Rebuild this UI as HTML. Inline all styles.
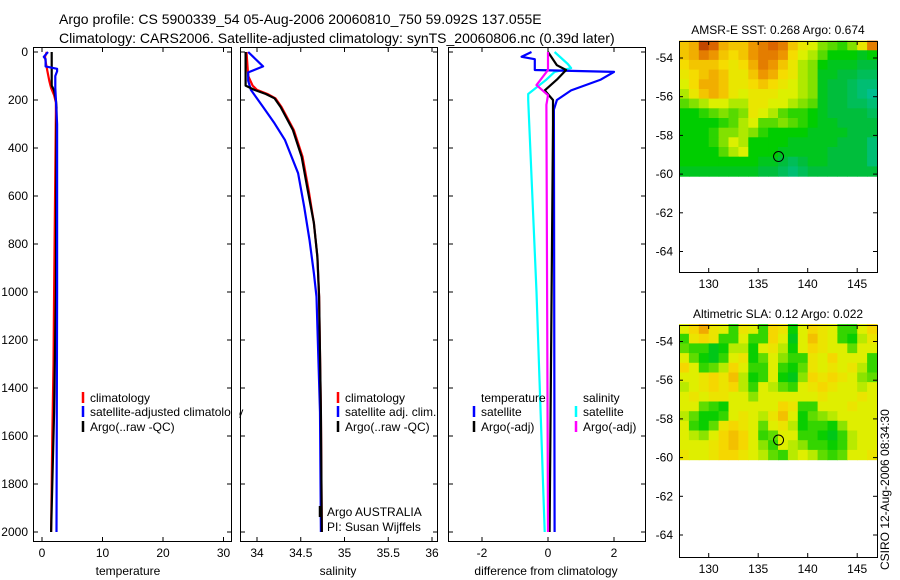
<!DOCTYPE html>
<html><head><meta charset="utf-8"><style>
body{margin:0;background:#fff}
svg{display:block;font-family:"Liberation Sans",sans-serif}
text{fill:#000}
</style></head><body>
<svg id="fig" width="900" height="580" viewBox="0 0 900 580">
<text x="59" y="24" font-size="14">Argo profile: CS 5900339_54 05-Aug-2006 20060810_750 59.092S 137.055E</text>
<text x="59" y="43" font-size="14">Climatology: CARS2006. Satellite-adjusted climatology: synTS_20060806.nc (0.39d later)</text>
<text transform="translate(889,570) rotate(-90)" font-size="12">CSIRO 12-Aug-2006 08:34:30</text>
<defs>
<clipPath id="c1"><rect x="33" y="47" width="198" height="494"/></clipPath>
<clipPath id="c2"><rect x="240" y="47" width="197" height="494"/></clipPath>
<clipPath id="c3"><rect x="448" y="47" width="197" height="494"/></clipPath>
</defs>
<g id="g"></g>
</svg>
<script>
// ---- profile data ----
const climTDepth=[0,20,40,80,120,150,180,210,250,500,1000,1300,1600,2000];
const climTVal=[0.8,0.5,0.6,0.9,1.2,1.5,2.0,2.3,2.3,2.2,2.0,1.9,1.7,1.5];
const argoTDepth=[0,140,160,200,230,300,1000,1500,2000];
const argoTVal=[1.6,1.6,2.0,2.3,2.4,2.4,2.3,2.0,1.5];
const satTDepth=[0,20,30,60,70,80,100,150,200,300,1000,2000];
const satTVal=[1.0,0.3,0.6,0.6,2.5,2.5,2.2,2.2,2.3,2.5,2.5,2.4];
const climSDepth=[0,100,140,158,175,193,229,325,436,575,713,854,1020,1500,2000];
const climSVal=[33.88,33.9,33.95,34.0,34.12,34.21,34.28,34.42,34.52,34.59,34.65,34.69,34.71,34.73,34.74];
const argoSDepth=[0,140,158,175,193,229,325,436,575,713,854,1020,1500,2000];
const argoSVal=[33.87,33.87,33.97,34.1,34.2,34.27,34.41,34.51,34.58,34.65,34.69,34.71,34.73,34.74];
const satSDepth=[0,60,85,120,158,229,297,367,505,645,783,922,1020,1500,2000];
const satSVal=[33.9,34.07,33.9,33.9,33.93,34.07,34.2,34.32,34.47,34.54,34.6,34.65,34.68,34.72,34.73];
const dSatTDepth=[0,20,30,75,83,115,160,200,240,2000];
const dSatTVal=[-0.5,-0.8,-0.4,-0.4,2.0,1.6,0.7,0.27,0.18,0.2];
const dArgoTDepth=[0,55,75,115,160,200,300,2000];
const dArgoTVal=[0,0.27,0.55,0.27,-0.1,0.15,0.15,0.05];
const dSatSDepth=[0,50,67,83,115,175,200,1000,2000];
const dSatSVal=[0.2,0.6,0.7,0.2,-0.05,-0.6,-0.6,-0.35,-0.1];
const dArgoSDepth=[0,75,138,180,220,2000];
const dArgoSVal=[0,0,-0.35,0,-0.05,0];
const depthTicks=[0,200,400,600,800,1000,1200,1400,1600,1800,2000];
const tempTicks=[0,10,20,30];
const salTicks=[34,34.5,35,35.5,36];
const salTickLabels=["34","34.5","35","35.5","36"];
const diffTicks=[-2,0,2];
const lonTicks=[130,135,140,145];
const latTicks=[-54,-56,-58,-60,-62,-64];
// ---- map data (rows: lat -53.1 .. -60.1 step 0.5, cols: lon 127..147 step 1) ----
const sstGrid=[
[.7,.75,.95,.9,.75,.7,.7,.8,.85,.9,.85,.7,.6,.55,.45,.4,.35,.45,.6,.85],
[.7,.75,.85,.8,.7,.65,.7,.8,.85,.85,.8,.65,.55,.5,.4,.3,.3,.3,.25,.3],
[.65,.7,.7,.7,.65,.6,.65,.75,.85,.8,.7,.6,.5,.45,.3,.25,.25,.25,.2,.2],
[.6,.65,.7,.75,.7,.6,.6,.7,.8,.75,.65,.6,.5,.45,.25,.25,.2,.2,.15,.15],
[.55,.65,.75,.75,.7,.6,.6,.65,.7,.65,.6,.55,.5,.45,.25,.2,.2,.15,.1,.1],
[.5,.6,.7,.75,.7,.6,.55,.6,.6,.6,.55,.55,.5,.45,.25,.2,.2,.15,.1,.05],
[.4,.45,.5,.55,.55,.5,.5,.6,.6,.55,.55,.5,.45,.4,.25,.2,.2,.15,.15,.1],
[.3,.3,.35,.4,.45,.4,.45,.6,.55,.5,.4,.35,.35,.3,.25,.2,.2,.2,.2,.15],
[.3,.3,.3,.3,.35,.4,.5,.55,.4,.4,.45,.4,.35,.3,.25,.25,.2,.2,.2,.2],
[.3,.3,.3,.35,.45,.45,.5,.45,.35,.3,.3,.3,.3,.25,.25,.25,.25,.2,.2,.2],
[.3,.3,.3,.35,.45,.55,.5,.3,.3,.3,.3,.25,.25,.25,.25,.25,.2,.2,.2,.1],
[.3,.3,.3,.3,.4,.5,.55,.3,.3,.3,.25,.25,.25,.25,.25,.2,.2,.2,.2,.1],
[.3,.3,.3,.3,.3,.3,.3,.3,.25,.25,.2,.15,.2,.25,.25,.2,.2,.2,.2,.1],
[.25,.25,.25,.25,.25,.25,.25,.25,.2,.2,.15,.1,.15,.2,.2,.2,.2,.2,.2,.2]];
const slaGrid=[
[.5,.6,.7,.55,.5,.3,.55,.5,.3,.6,.55,.25,.5,.6,.55,.5,.3,.3,.5,.6],
[.3,.55,.6,.55,.3,.3,.5,.3,.3,.6,.5,.2,.5,.65,.55,.5,.3,.25,.45,.55],
[.35,.3,.3,.2,.25,.45,.45,.25,.5,.55,.45,.25,.5,.6,.55,.5,.5,.35,.5,.5],
[.5,.35,.25,.2,.3,.5,.55,.25,.35,.5,.4,.3,.3,.55,.5,.6,.5,.5,.5,.3],
[.6,.5,.3,.35,.45,.6,.5,.3,.3,.5,.3,.25,.35,.55,.5,.55,.5,.55,.45,.3],
[.5,.5,.55,.6,.55,.65,.45,.25,.3,.5,.25,.2,.4,.6,.55,.6,.55,.5,.4,.35],
[.45,.5,.55,.6,.55,.6,.45,.3,.5,.45,.35,.3,.5,.55,.6,.55,.5,.5,.45,.5],
[.5,.55,.5,.55,.55,.5,.5,.4,.5,.5,.5,.5,.5,.5,.55,.5,.5,.5,.55,.5],
[.5,.5,.35,.3,.25,.5,.5,.5,.5,.5,.6,.55,.3,.3,.5,.5,.5,.55,.5,.5],
[.45,.35,.25,.25,.3,.5,.55,.5,.45,.55,.65,.5,.25,.35,.4,.45,.5,.5,.5,.5],
[.5,.3,.25,.35,.55,.6,.55,.5,.35,.5,.55,.45,.25,.3,.3,.25,.4,.5,.5,.5],
[.5,.45,.4,.5,.6,.65,.6,.5,.3,.35,.5,.5,.3,.3,.25,.2,.3,.45,.5,.5],
[.5,.5,.5,.55,.6,.65,.6,.5,.4,.3,.5,.45,.4,.3,.3,.25,.3,.45,.5,.5],
[.55,.5,.5,.55,.6,.6,.55,.5,.45,.35,.3,.45,.5,.45,.35,.3,.35,.5,.5,.55]];
const floatLon=137.055, floatLat=-59.092;

const NS='http://www.w3.org/2000/svg';
const G=document.getElementById('g');
function mk(tag,attrs,parent){const e=document.createElementNS(NS,tag);for(const k in attrs)e.setAttribute(k,attrs[k]);(parent||G).appendChild(e);return e;}
const yD=d=>52+d*0.24;
const xT=v=>42+v*6.05;
const xS=v=>257+(v-34)*87.5;
const xDf=v=>548+v*33;
const TOP=47,BOT=541;

function panel(x0,x1,name,clip){
  const b=mk('rect',{x:x0+.5,y:TOP+.5,width:x1-x0,height:BOT-TOP,fill:'none',stroke:'#000','stroke-width':1});
  
  
  depthTicks.forEach(d=>{
    const t=mk('line',{x1:x0,x2:x0+5,y1:yD(d),y2:yD(d),stroke:'#000'});
    
    
    mk('line',{x1:x1-4,x2:x1,y1:yD(d),y2:yD(d),stroke:'#000'});
  });
  const g=mk('g',{'clip-path':'url(#'+clip+')'});
  
  
  return g;
}
function xticks(xs,labels,fx,name,title,cx){
  xs.forEach((v,i)=>{
    mk('line',{x1:fx(v),x2:fx(v),y1:TOP,y2:TOP+5,stroke:'#000'});
    mk('line',{x1:fx(v),x2:fx(v),y1:BOT-4,y2:BOT,stroke:'#000'});
    const t=mk('text',{x:fx(v),y:BOT+16,'font-size':12,'text-anchor':'middle'});
    t.textContent=labels[i];
    
    
  });
  const t=mk('text',{x:cx,y:BOT+34,'font-size':12,'text-anchor':'middle'});
  t.textContent=title;
  
  
}
function line(g,depths,vals,fx,color,name){
  const pts=depths.map((d,i)=>fx(vals[i]).toFixed(1)+','+yD(d).toFixed(1)).join(' ');
  const p=mk('polyline',{points:pts,fill:'none',stroke:color,'stroke-width':2.2,'stroke-linejoin':'round'},g);
  
  
}
function legend(x,y,color,label,name){
  const l=mk('line',{x1:x,x2:x,y1:y-10,y2:y+1,stroke:color,'stroke-width':2.5});
  
  
  const t=mk('text',{x:x+7,y:y,'font-size':12});
  t.textContent=label;
  
  
}

depthTicks.forEach(d=>{
  const t=mk('text',{x:28,y:yD(d)+4,'font-size':12,'text-anchor':'end'});
  t.textContent=d;
  
  
});

const g1=panel(33,231,'temperature-panel','c1');
line(g1,climTDepth,climTVal,xT,'#f00','temperature-climatology-line');
line(g1,argoTDepth,argoTVal,xT,'#000','temperature-argo-line');
line(g1,satTDepth,satTVal,xT,'#00f','temperature-satellite-line');
xticks(tempTicks,tempTicks.map(String),xT,'temperature',"temperature",128);
legend(83,402,'#f00','climatology','temp-legend-climatology');
legend(83,416,'#00f','satellite-adjusted climatology','temp-legend-satellite');
legend(83,431,'#000','Argo(..raw -QC)','temp-legend-argo');

const g2=panel(240,437,'salinity-panel','c2');
line(g2,climSDepth,climSVal,xS,'#f00','salinity-climatology-line');
line(g2,satSDepth,satSVal,xS,'#00f','salinity-satellite-line');
line(g2,argoSDepth,argoSVal,xS,'#000','salinity-argo-line');
xticks(salTicks,salTickLabels,xS,'salinity',"salinity",338);
mk('rect',{x:231.5,y:395,width:8,height:40,fill:'#fff'});
mk('line',{x1:231.5,x2:231.5,y1:TOP,y2:BOT,stroke:'#000'});
legend(338,402,'#f00','climatology','sal-legend-climatology');
legend(338,416,'#00f','satellite adj. clim.','sal-legend-satellite');
legend(338,431,'#000','Argo(..raw -QC)','sal-legend-argo');
legend(320,516,'#000','Argo AUSTRALIA','platform-label');
const pi=mk('text',{x:327,y:531,'font-size':12});pi.textContent='PI: Susan Wijffels';



const g3=panel(448,645,'difference-panel','c3');
line(g3,dSatSDepth,dSatSVal,xDf,'#0ff','diff-salinity-satellite-line');
line(g3,dSatTDepth,dSatTVal,xDf,'#00f','diff-temperature-satellite-line');
line(g3,dArgoTDepth,dArgoTVal,xDf,'#000','diff-temperature-argo-line');
line(g3,dArgoSDepth,dArgoSVal,xDf,'#f0f','diff-salinity-argo-line');
xticks(diffTicks,diffTicks.map(String),xDf,'difference',"difference from climatology",546);
const lt=mk('text',{x:481,y:402,'font-size':12});lt.textContent='temperature';


const ls=mk('text',{x:583,y:402,'font-size':12});ls.textContent='salinity';


legend(474,416,'#00f','satellite','diff-legend-temp-satellite');
legend(474,431,'#000','Argo(-adj)','diff-legend-temp-argo');
legend(576,416,'#0ff','satellite','diff-legend-sal-satellite');
legend(576,431,'#f0f','Argo(-adj)','diff-legend-sal-argo');

const stops=[[0,[0,190,170]],[.2,[0,190,60]],[.3,[0,205,0]],[.45,[130,225,0]],[.55,[220,240,0]],[.65,[245,220,0]],[.78,[240,160,0]],[.9,[220,100,0]],[1,[170,40,0]]];
function cmap(v){
  v=Math.max(0,Math.min(1,v));
  for(let i=1;i<stops.length;i++){if(v<=stops[i][0]){const a=stops[i-1],b=stops[i];const f=(v-a[0])/(b[0]-a[0]);
    const c=a[1].map((x,k)=>Math.round(x+(b[1][k]-x)*f));return 'rgb('+c.join(',')+')';}}
  return 'rgb(170,40,0)';
}
function map(top,bot,latAt54,grid,title,name,shift){
  const L=679,R=877;
  const xL=lon=>L+(lon-127)*9.9;
  const pxPerDeg=19.35;
  const yL=lat=>latAt54+(-54-lat)*pxPerDeg;
  const cg=mk('g',{});
  
  
  grid.forEach((row,r)=>row.forEach((v,c)=>{
    const la=-53.1-r*0.5, lo=127+c;
    const y0=yL(la),y1=yL(la-0.5);
    const rc=mk('rect',{x:xL(lo).toFixed(1),y:y0.toFixed(1),width:(9.9+.6).toFixed(1),height:(y1-y0+.6).toFixed(1),fill:cmap(v+shift)},cg);
    
    
  }));
  const f=mk('rect',{x:L+.5,y:top+.5,width:R-L,height:bot-top,fill:'none',stroke:'#000'});
  
  
  lonTicks.forEach(lo=>{
    mk('line',{x1:xL(lo),x2:xL(lo),y1:top,y2:top+4,stroke:'#000'});
    mk('line',{x1:xL(lo),x2:xL(lo),y1:bot-4,y2:bot,stroke:'#000'});
    const t=mk('text',{x:xL(lo),y:bot+16,'font-size':12,'text-anchor':'middle'});t.textContent=lo;
    
    
  });
  latTicks.forEach(la=>{
    mk('line',{x1:L,x2:L+4,y1:yL(la),y2:yL(la),stroke:'#000'});
    mk('line',{x1:R-4,x2:R,y1:yL(la),y2:yL(la),stroke:'#000'});
    const t=mk('text',{x:L-6,y:yL(la)+4,'font-size':12,'text-anchor':'end'});t.textContent=la;
    
    
  });
  const t=mk('text',{x:(L+R)/2,y:top-7,'font-size':12,'text-anchor':'middle'});t.textContent=title;
  
  
  const c=mk('circle',{cx:xL(floatLon),cy:yL(floatLat),r:5,fill:'none',stroke:'#000','stroke-width':1});
  
  
}
map(41,272,58,sstGrid,'AMSR-E SST: 0.268 Argo: 0.674','sst-map',0);
map(325,557,341.5,slaGrid,'Altimetric SLA: 0.12 Argo: 0.022','sla-map',0.06);
</script>
</body></html>
